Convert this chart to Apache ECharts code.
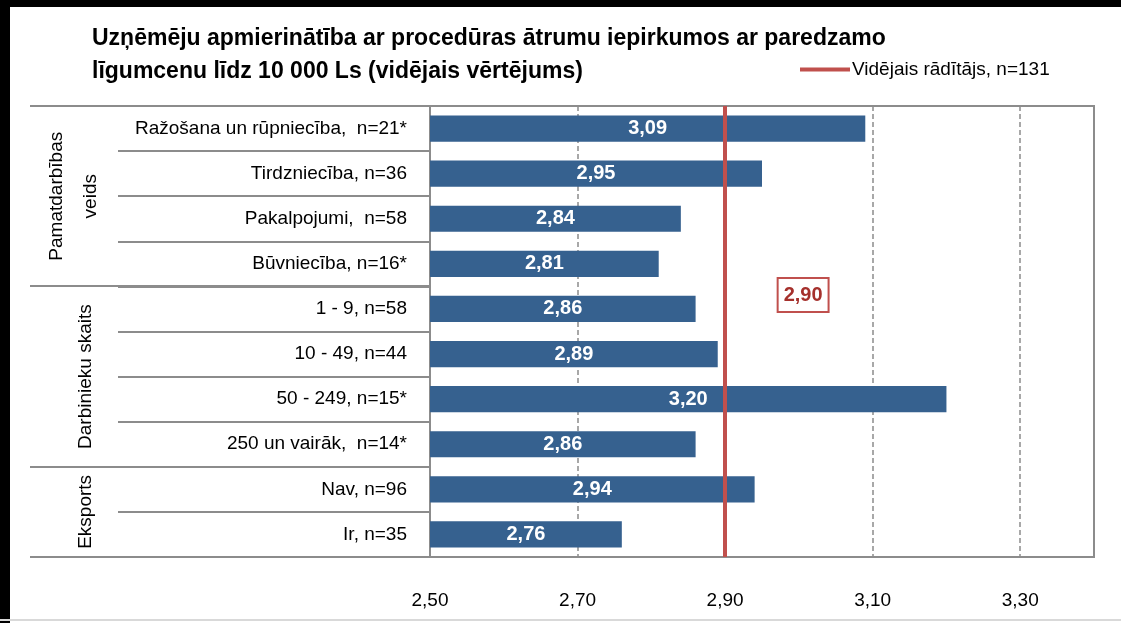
<!DOCTYPE html>
<html><head><meta charset="utf-8">
<script src="https://cdn.jsdelivr.net/npm/echarts@6/dist/echarts.min.js"></script>
<style>html,body{margin:0;padding:0;background:#fff}#c{width:1121px;height:623px}</style>
</head><body><div id="c"></div>
<script>
const categories = [
  'Ražošana un rūpniecība,  n=21*',
  'Tirdzniecība, n=36',
  'Pakalpojumi,  n=58',
  'Būvniecība, n=16*',
  '1 - 9, n=58',
  '10 - 49, n=44',
  '50 - 249, n=15*',
  '250 un vairāk,  n=14*',
  'Nav, n=96',
  'Ir, n=35'
];
const values = [3.09, 2.95, 2.84, 2.81, 2.86, 2.89, 3.20, 2.86, 2.94, 2.76];
const groupNames = ['Pamatdarbības\nveids', 'Darbinieku skaits', 'Eksports'];
const groupStarts = [0, 4, 8];
const groupEnds = [4, 8, 10];
const average = 2.90;
const averageName = 'Vidējais rādītājs, n=131';
const xTicks = [2.5, 2.7, 2.9, 3.1, 3.3];
const xMin = 2.5, xMax = 3.4;
const titleText = 'Uzņēmēju apmierinātība ar procedūras ātrumu iepirkumos ar paredzamo\nlīgumcenu līdz 10 000 Ls (vidējais vērtējums)';

const FONT = "'Liberation Sans Narrow','Arial Narrow','Liberation Sans',Arial,sans-serif";
const fmt = v => v.toFixed(2).replace('.', ',');
const GRAY = '#8c8c8c';

const chart = echarts.init(document.getElementById('c'));
const option = {
  animation: false,
  textStyle: { fontFamily: FONT },
  title: {
    text: titleText, left: 87, top: 17,
    textStyle: { fontFamily: FONT, fontSize: 23, fontWeight: 'bold', color: '#000', lineHeight: 33 }
  },
  legend: {
    data: [{ name: averageName, icon: 'rect' }],
    left: 795, top: 55, itemWidth: 50, itemHeight: 4, itemGap: 5,
    textStyle: { fontFamily: FONT, fontSize: 19, color: '#000', padding: [0, 0, 0, -3] }
  },
  grid: { left: 430, right: 27, top: 106, bottom: 66, show: true, borderColor: GRAY, borderWidth: 2, containLabel: false },
  xAxis: {
    type: 'value', min: xMin, max: xMax,
    axisLine: { show: false },
    axisTick: { show: false, customValues: xTicks },
    axisLabel: { customValues: xTicks, formatter: fmt, fontFamily: FONT, fontSize: 19, color: '#000', margin: 34 },
    splitLine: { show: true, lineStyle: { color: GRAY, width: 1.5, type: [5, 3] } }
  },
  yAxis: {
    type: 'category', data: categories, inverse: true,
    axisLine: { show: false },
    axisTick: { show: true, length: 312, lineStyle: { color: GRAY, width: 2 } },
    axisLabel: { fontFamily: FONT, fontSize: 19, color: '#000', margin: 23 },
    splitLine: { show: false }
  },
  series: [
    {
      type: 'bar', data: values, barCategoryGap: '42%',
      itemStyle: { color: '#36618f' },
      label: { show: true, position: 'inside', formatter: p => fmt(p.value), color: '#fff', fontWeight: 'bold', fontSize: 20, fontFamily: FONT },
      markLine: {
        silent: true, symbol: 'none',
        lineStyle: { color: '#c0504d', width: 4, type: 'solid' },
        label: { show: false },
        data: [{ xAxis: average }]
      }
    },
    { type: 'line', name: averageName, data: [], itemStyle: { color: '#c0504d' }, lineStyle: { color: '#c0504d', width: 4 } }
  ]
};
chart.setOption(option);

// decorations computed from the axes
const y0 = chart.convertToPixel({ yAxisIndex: 0 }, categories[0]);
const y1 = chart.convertToPixel({ yAxisIndex: 0 }, categories[1]);
const rowH = y1 - y0;
const topY = y0 - rowH / 2;
const xLeft = chart.convertToPixel({ xAxisIndex: 0 }, xMin);
const xAvg = chart.convertToPixel({ xAxisIndex: 0 }, average);
const graphics = [
  { type: 'rect', shape: { x: 0, y: 0, width: 1121, height: 7 }, style: { fill: '#000' } },
  { type: 'rect', shape: { x: 0, y: 0, width: 10, height: 623 }, style: { fill: '#000' } },
  { type: 'rect', shape: { x: 0, y: 619, width: 1121, height: 2 }, style: { fill: '#d9d9d9' } }
];
const bounds = [0].concat(groupEnds);
bounds.forEach(b => {
  const y = Math.round(topY + b * rowH);
  graphics.push({ type: 'line', shape: { x1: 30, y1: y, x2: xLeft, y2: y }, style: { stroke: GRAY, lineWidth: 2 } });
});
groupNames.forEach((g, i) => {
  const cy = topY + (groupStarts[i] + groupEnds[i]) / 2 * rowH;
  const cx = g.indexOf('\n') >= 0 ? 74 : 86;
  graphics.push({
    type: 'text', x: cx, y: cy, rotation: Math.PI / 2,
    style: { text: g, font: '19px ' + FONT, fill: '#000', align: 'center', verticalAlign: 'middle', lineHeight: 34 }
  });
});
graphics.push({
  type: 'text', x: xAvg + 78, y: 295,
  style: {
    text: fmt(average), font: 'bold 20px ' + FONT, fill: '#a5302c', align: 'center', verticalAlign: 'middle',
    backgroundColor: '#fff', borderColor: '#c0504d', borderWidth: 2, padding: [6, 5, 6, 5]
  }
});
chart.setOption({ graphic: graphics });
</script></body></html>
